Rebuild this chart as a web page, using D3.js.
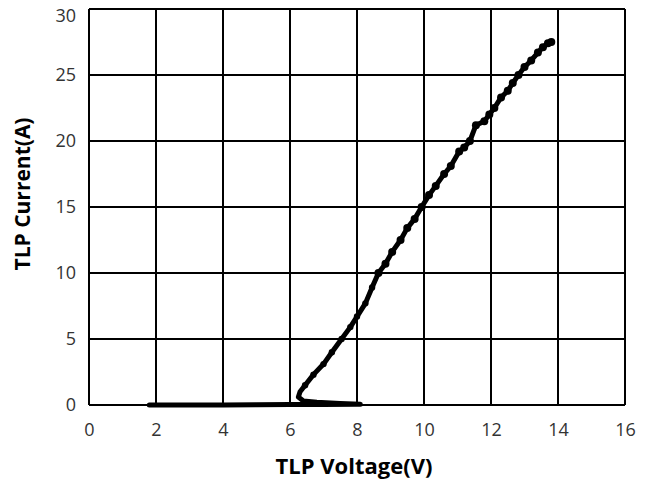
<!DOCTYPE html>
<html>
<head>
<meta charset="utf-8">
<script src="https://cdn.jsdelivr.net/npm/d3@7"></script>
<style>
  body { margin: 0; background: #fff; }
  text { font-family: "Open Sans", "Noto Sans", sans-serif; }
</style>
</head>
<body>
<svg id="chart"></svg>
<script>
const width = 645;
const height = 481;

// axis ticks
const xTicks = [0, 2, 4, 6, 8, 10, 12, 14, 16];
const yTicks = [0, 5, 10, 15, 20, 25, 30];

// TLP curve (voltage, current)
const voltage = [1.8, 3, 4, 5, 6, 7, 8, 8.1, 7.5, 6.8, 6.4, 6.25, 6.3, 6.45, 6.7, 7.0, 7.25, 7.54,
    7.8, 8.0, 8.25, 8.45, 8.64, 8.85, 9.05, 9.3, 9.5, 9.72, 9.93, 10.15, 10.35, 10.6, 10.8, 11.05,
    11.2, 11.37, 11.55, 11.8, 11.95, 12.1, 12.3, 12.5, 12.65, 12.82, 13.0, 13.2, 13.4, 13.55, 13.7, 13.8];
const current = [0, 0, 0, 0.02, 0.03, 0.04, 0.05, 0.05, 0.12, 0.2, 0.3, 0.6, 1.0, 1.5, 2.3, 3.1, 4.0, 5.0,
    5.9, 6.7, 7.7, 8.9, 10.0, 10.7, 11.6, 12.5, 13.4, 14.1, 15.0, 15.9, 16.6, 17.5, 18.1, 19.2,
    19.5, 20.0, 21.2, 21.5, 22.0, 22.5, 23.3, 23.8, 24.4, 25.0, 25.6, 26.1, 26.7, 27.1, 27.4, 27.5];

const margin = {left: 89, right: 20, top: 9, bottom: 76};
const plotW = width - margin.left - margin.right;
const plotH = height - margin.top - margin.bottom;

const svg = d3.select("#chart")
    .attr("width", width)
    .attr("height", height);

const g = svg.append("g").attr("transform", `translate(${margin.left},${margin.top})`);

const x = d3.scaleLinear().domain([0, 16]).range([0, plotW]);
const y = d3.scaleLinear().domain([0, 30]).range([plotH, 0]);

// grid lines
g.selectAll("line.vgrid").data(xTicks).enter().append("line")
    .attr("class", "vgrid")
    .attr("x1", d => x(d)).attr("x2", d => x(d))
    .attr("y1", 0).attr("y2", plotH)
    .attr("stroke", "#000").attr("stroke-width", 2);

g.selectAll("line.hgrid").data(yTicks).enter().append("line")
    .attr("class", "hgrid")
    .attr("x1", 0).attr("x2", plotW)
    .attr("y1", d => y(d)).attr("y2", d => y(d))
    .attr("stroke", "#000").attr("stroke-width", 2);

// axes (labels only, lines come from the grid)
const xAxis = g.append("g")
    .attr("transform", `translate(0,${plotH})`)
    .call(d3.axisBottom(x).tickValues(xTicks).tickSize(0).tickPadding(18));
const yAxis = g.append("g")
    .call(d3.axisLeft(y).tickValues(yTicks).tickSize(0).tickPadding(13));

[xAxis, yAxis].forEach(a => {
    a.select(".domain").remove();
    a.selectAll("text")
        .attr("font-family", "'Open Sans', 'Noto Sans', sans-serif")
        .attr("font-size", 18)
        .attr("fill", "#333");
});

// top label sits a bit lower so it stays inside the picture
yAxis.selectAll("text").filter(d => d === 30).attr("dy", "0.7em");

// the curve
const pts = voltage.map((v, i) => [v, current[i]]);
const line = d3.line().x(d => x(d[0])).y(d => y(d[1]));

g.append("path")
    .datum(pts)
    .attr("fill", "none")
    .attr("stroke", "#000")
    .attr("stroke-width", 5)
    .attr("stroke-linejoin", "round")
    .attr("stroke-linecap", "round")
    .attr("d", line);

g.selectAll("circle.pt").data(pts.filter(d => d[1] > 1)).enter().append("circle")
    .attr("class", "pt")
    .attr("cx", d => x(d[0]))
    .attr("cy", d => y(d[1]))
    .attr("r", d => d[1] > 9 ? 4 : 3.2)
    .attr("fill", "#000");

// axis titles
svg.append("text")
    .attr("x", 354)
    .attr("y", 474)
    .attr("text-anchor", "middle")
    .attr("font-weight", "bold")
    .attr("font-size", 22)
    .attr("fill", "#000")
    .text("TLP Voltage(V)");

svg.append("text")
    .attr("transform", "translate(30,194) rotate(-90)")
    .attr("text-anchor", "middle")
    .attr("font-weight", "bold")
    .attr("font-size", 21)
    .attr("fill", "#000")
    .text("TLP Current(A)");
</script>
</body>
</html>
